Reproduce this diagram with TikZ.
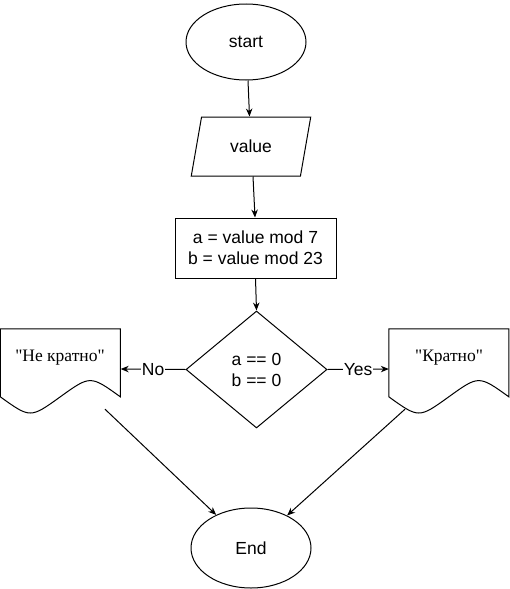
\documentclass[tikz,border=0pt]{standalone}
\usepackage{fontspec}
\setmainfont{Liberation Sans}
\newfontfamily\serifcyr{Liberation Serif}
\usetikzlibrary{shapes.geometric,arrows.meta}

\tikzset{
  base/.style={draw=black, line width=1pt, inner sep=0pt, align=center,
    font=\fontsize{17.5}{21}\selectfont},
  terminal/.style={base, ellipse, minimum width=120pt, minimum height=76pt},
  io/.style={base, trapezium, trapezium left angle=71.3, trapezium right angle=108.7,
    trapezium stretches=true, minimum width=120pt, minimum height=59pt},
  process/.style={base, rectangle, minimum width=161pt, minimum height=60pt},
  decision/.style={base, diamond, aspect=1.2, minimum width=141pt, minimum height=117pt},
  docbox/.style={rectangle, draw=none, inner sep=0pt, minimum width=120pt, minimum height=80pt},
  doctext/.style={inner sep=0pt, font=\serifcyr\fontsize{17.5}{21}\selectfont},
  arr/.style={draw=black, line width=1pt, -{Stealth[length=8pt,width=6.5pt]}},
  edgelabel/.style={fill=white, inner sep=1pt, font=\fontsize{17.5}{21}\selectfont}
}

\begin{document}
\begin{tikzpicture}[x=1pt, y=-1pt]
  \useasboundingbox (0,0) rectangle (510,589);

  % main column
  \node[terminal] (start) at (246,42) {start};
  \node[io] (value) at (251,146.5) {value};
  \node[process] (calc) at (255.5,248) {a = value mod 7\\b = value mod 23};
  \node[decision] (check) at (256.5,369.5) {a == 0\\b == 0};
  \node[terminal, minimum height=80pt] (finish) at (251,548) {End};

  % output documents
  \node[docbox] (nodoc) at (60.5,369) {};
  \node[docbox] (yesdoc) at (449,369) {};
  \node[doctext] (notext) at (60,358) {"Не кратно"};
  \node[doctext] (yestext) at (449,358) {"Кратно"};

  \foreach \d in {nodoc, yesdoc} {
    \begin{scope}[shift={(\d.north west)}]
      \draw[line width=1pt] (0,0) -- (120,0) -- (120,68)
        .. controls (90,46.4) .. (60,68)
        .. controls (30,89.6) .. (0,68) -- cycle;
    \end{scope}
  }

  % connectors
  \draw[arr] ([xshift=2pt]start.south) -- ([xshift=-1.5pt]value.north);
  \draw[arr] ([xshift=2pt]value.south) -- ([xshift=-0.5pt]calc.north);
  \draw[arr] (calc.south) -- (check.north);
  \draw[arr] (check.west) -- node[edgelabel] (nolabel) {No} (nodoc.east);
  \draw[arr] (check.east) -- node[edgelabel] (yeslabel) {Yes} (yesdoc.west);
  \draw[arr] ([xshift=44.5pt]nodoc.south) -- (finish);
  \draw[arr] ([xshift=-44pt]yesdoc.south) -- (finish);
\end{tikzpicture}
\end{document}
